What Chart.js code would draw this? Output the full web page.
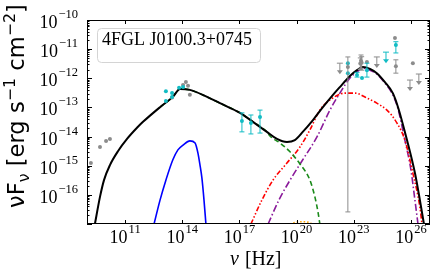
<!DOCTYPE html>
<html>
<head>
<meta charset="utf-8">
<script src="https://cdn.jsdelivr.net/npm/chart.js@4.4.0/dist/chart.umd.min.js"></script>
<style>
  html, body { margin: 0; padding: 0; background: #fff; }
  #wrap { width: 436px; height: 273px; }
</style>
</head>
<body>
<div id="wrap"><canvas id="sed" width="436" height="273"></canvas></div>
<script>
/* SED of 4FGL J0100.3+0745 — nu [Hz] vs nuFnu [erg s-1 cm-2] */

// model curves
var totalNu   = [2.6e9, 4.8e9, 7.8e9, 1.6e10, 4.3e10, 1.26e11, 4.2e11, 8.7e11, 6.8e12, 3.2e13, 7.6e13, 2.5e14, 2.0e15, 9.5e15, 1.07e17, 5.1e17, 2.75e18, 9.3e18, 3.1e19, 8.1e19, 2.1e20, 7.2e20, 2.4e21, 8.1e21, 1.86e22, 6.3e22, 1.48e23, 3.0e23, 7.1e23, 1.62e24, 4.3e24, 1.12e25, 2.1e25, 6.2e25, 1.62e26, 2.95e26, 4.8e26];
var totalFlux = [1e-17, 8.5e-17, 3.2e-16, 1.05e-15, 3.2e-15, 8.3e-15, 2.0e-14, 3.2e-14, 1.02e-13, 2.3e-13, 4.3e-13, 4.0e-13, 2.3e-13, 1.4e-13, 6.5e-14, 3.2e-14, 1.45e-14, 8.3e-15, 6.5e-15, 7.6e-15, 1.45e-14, 3.7e-14, 1.02e-13, 2.7e-13, 5.0e-13, 1.2e-12, 1.9e-12, 2.45e-12, 2.1e-12, 1.5e-12, 7.4e-13, 3.1e-13, 1.02e-13, 7.6e-15, 5.6e-16, 6.6e-17, 1e-17];

var diskNu    = [3.3e12, 6.8e12, 1.38e13, 3.2e13, 5.9e13, 1.1e14, 2.5e14, 4.7e14, 6.6e14, 8.5e14, 1.07e15, 1.38e15, 1.74e15];
var diskFlux  = [1e-17, 6.6e-17, 3.2e-16, 1.6e-15, 3.5e-15, 5.1e-15, 7.1e-15, 6.0e-15, 2.75e-15, 1.05e-15, 3.8e-16, 6.6e-17, 1e-17];

var synNu     = [6.8e12, 3.2e13, 7.6e13, 2.5e14, 2.0e15, 9.5e15, 1.07e17, 5.1e17, 2.75e18, 4.0e18, 1.35e19, 4.5e19, 1.5e20, 5.0e20, 9.1e20, 1.32e21, 1.66e21];
var synFlux   = [1.02e-13, 2.3e-13, 4.3e-13, 4.0e-13, 2.3e-13, 1.4e-13, 6.5e-14, 3.2e-14, 1.45e-14, 1.05e-14, 6.0e-15, 3.0e-15, 1.15e-15, 3.2e-16, 8.5e-17, 2.6e-17, 1e-17];

var sscNu     = [4.0e17, 1.5e18, 5.75e18, 3.1e19, 1.5e20, 5.0e20, 1.66e21, 5.6e21, 3.5e22, 1.15e23, 4.9e23, 1.62e24, 5.5e24, 1.82e25, 4.8e25, 1.26e26, 2.95e26, 3.8e26];
var sscFlux   = [1e-17, 6.6e-17, 3.2e-16, 1.23e-15, 4.4e-15, 1.7e-14, 8.1e-14, 1.8e-13, 3.1e-13, 3.1e-13, 2.1e-13, 1.4e-13, 8.1e-14, 2.95e-14, 7.6e-15, 5.6e-16, 3.8e-17, 1e-17];

var ecNu      = [3.2e18, 1.17e19, 4.5e19, 2.1e20, 1.15e21, 5.6e21, 1.86e22, 6.3e22, 1.48e23, 3.0e23, 7.1e23, 1.62e24, 4.3e24, 1.12e25, 2.1e25, 4.8e25, 1.0e26, 1.62e26, 2.34e26];
var ecFlux    = [1e-17, 6.6e-17, 3.2e-16, 1.6e-15, 9.5e-15, 8.1e-14, 3.1e-13, 1.02e-12, 1.66e-12, 2.24e-12, 1.9e-12, 1.4e-12, 6.9e-13, 2.7e-13, 8.9e-14, 7.6e-15, 7.1e-16, 6.6e-17, 1e-17];

var hadNu     = [4.0e19, 6.3e19, 1.05e20, 2.0e20, 3.5e20, 6.3e20, 1.26e21];
var hadFlux   = [5e-18, 1e-17, 1.17e-17, 1.2e-17, 1.17e-17, 1e-17, 5e-18];

// archival data (grey) and observations (cyan); null = no error bar
var greyNu    = [1.6e9, 4.8e9, 1.0e10, 1.6e10, 2.9e13, 1.1e14, 1.55e14, 2.0e14, 2.5e14, 4.9e22, 2.2e23, 2.4e23, 2.6e23, 4.9e23, 1.45e25, 1.62e25, 1.26e26];
var greyFlux  = [1.23e-15, 4.4e-15, 7.1e-15, 8.3e-15, 2.2e-13, 5.9e-13, 7.4e-13, 5.5e-13, 2.7e-13, 2.45e-12, 3.2e-12, 4.0e-12, 3.4e-12, 3.6e-12, 2.4e-11, 2.6e-12, 3.3e-12];
var greyLo    = [null, null, null, null, null, null, null, null, null, 2.6e-17, 2.0e-12, 2.2e-12, 1.9e-12, null, null, 1.5e-12, null];
var greyHi    = [null, null, null, null, null, null, null, null, null, 5.4e-12, 5.0e-12, 6.3e-12, 5.5e-12, null, null, 4.3e-12, null];

var cyanNu    = [1.38e13, 1.38e13, 2.9e13, 2.9e13, 6.8e13, 1.1e14, 1.35e17, 4.0e17, 1.2e18, 4.9e22, 4.9e22, 1.48e23, 2.7e23, 4.9e23, 1.62e25];
var cyanFlux  = [3.6e-13, 1.66e-13, 3.1e-13, 2.3e-13, 4.7e-13, 5.0e-13, 3.4e-14, 2.95e-14, 4.7e-14, 3.3e-12, 1.5e-12, 1.3e-12, 1.02e-12, 1.9e-12, 1.38e-11];
var cyanLo    = [null, null, null, null, null, null, 1.45e-14, 1.23e-14, 1.32e-14, null, null, 1.1e-12, null, 1.1e-12, 7.4e-12];
var cyanHi    = [null, null, null, null, null, null, 6.5e-14, 5.5e-14, 8.1e-14, null, null, 1.6e-12, null, 3.3e-12, 1.8e-11];

// upper limits
var greyUlNu   = [1.86e22, 1.62e24, 8.9e25, 2.6e26];
var greyUlFlux = [3.3e-12, 5.4e-12, 8.7e-13, 1.4e-12];
var cyanUlNu   = [4.9e24];
var cyanUlFlux = [7.9e-12];

// axes
var xLabelExp = [11, 14, 17, 20, 23, 26];
var yLabelExp = [-10, -11, -12, -13, -14, -15, -16];
var sourceName = '4FGL J0100.3+0745';

var GREY = '#8c8c8c', CYAN = '#12bcc4';
var SERIF = '"Liberation Serif", "DejaVu Serif", serif';

function pts(xs, ys) {
  return xs.map(function(x, i) { return { x: x, y: ys[i] }; });
}

function curve(label, xs, ys, color, dash, width) {
  return {
    label: label, data: pts(xs, ys), showLine: true,
    borderColor: color, borderWidth: width || 1.6, borderDash: dash || [],
    pointRadius: 0, cubicInterpolationMode: 'monotone', fill: false
  };
}

function marks(label, xs, ys, color) {
  return {
    label: label, data: pts(xs, ys), showLine: false,
    pointRadius: 2, pointBackgroundColor: color, pointBorderColor: color, pointBorderWidth: 0
  };
}

function seg(ctx, x1, y1, x2, y2) {
  ctx.beginPath(); ctx.moveTo(x1, y1); ctx.lineTo(x2, y2); ctx.stroke();
}

function drawBars(ctx, sx, sy, nu, lo, hi, color) {
  ctx.strokeStyle = color; ctx.lineWidth = 1;
  nu.forEach(function(n, i) {
    if (lo[i] == null) return;
    var x = sx.getPixelForValue(n), y1 = sy.getPixelForValue(lo[i]), y2 = sy.getPixelForValue(hi[i]);
    seg(ctx, x, y1, x, y2);
    seg(ctx, x - 2.5, y1, x + 2.5, y1);
    seg(ctx, x - 2.5, y2, x + 2.5, y2);
  });
}

function drawLimits(ctx, sx, sy, nu, flux, color) {
  ctx.strokeStyle = color; ctx.fillStyle = color; ctx.lineWidth = 1;
  nu.forEach(function(n, i) {
    var x = sx.getPixelForValue(n), y = sy.getPixelForValue(flux[i]);
    seg(ctx, x - 3, y, x + 3, y);
    seg(ctx, x, y, x, y + 8);
    ctx.beginPath();
    ctx.moveTo(x - 3, y + 7); ctx.lineTo(x + 3, y + 7); ctx.lineTo(x, y + 11);
    ctx.closePath(); ctx.fill();
  });
}

function expText(e) { return (e < 0 ? '\u2212' : '') + Math.abs(e); }

function drawPow(ctx, x, base, e, align) {
  ctx.font = '18px ' + SERIF;
  var w1 = ctx.measureText('10').width;
  ctx.font = '12.5px ' + SERIF;
  var s = expText(e), w2 = ctx.measureText(s).width;
  var x0 = align === 'right' ? x - w1 - w2 - 1 : x - (w1 + w2 + 1) / 2;
  ctx.textAlign = 'left'; ctx.textBaseline = 'alphabetic';
  ctx.font = '18px ' + SERIF;
  ctx.fillText('10', x0, base);
  ctx.font = '12.5px ' + SERIF;
  ctx.fillText(s, x0 + w1 + 1, base - 10);
}

var decor = {
  id: 'decor',
  afterDatasetsDraw: function(chart) {
    var ctx = chart.ctx, sx = chart.scales.x, sy = chart.scales.y;
    ctx.save();
    drawBars(ctx, sx, sy, greyNu, greyLo, greyHi, GREY);
    drawBars(ctx, sx, sy, cyanNu, cyanLo, cyanHi, CYAN);
    drawLimits(ctx, sx, sy, greyUlNu, greyUlFlux, GREY);
    drawLimits(ctx, sx, sy, cyanUlNu, cyanUlFlux, CYAN);
    ctx.restore();
  },
  afterDraw: function(chart) {
    var ctx = chart.ctx, sx = chart.scales.x, sy = chart.scales.y, a = chart.chartArea;
    ctx.save();
    ctx.strokeStyle = '#000'; ctx.fillStyle = '#000'; ctx.lineWidth = 1;
    ctx.strokeRect(a.left + 0.5, a.top + 0.5, a.right - a.left - 1, a.bottom - a.top - 1);

    // y ticks, both sides
    for (var e = -17; e <= -10; e++) {
      var y = Math.round(sy.getPixelForValue(Math.pow(10, e))) + 0.5;
      seg(ctx, a.left, y, a.left + 5, y);
      seg(ctx, a.right, y, a.right - 5, y);
      if (e === -10) continue;
      for (var m = 2; m <= 9; m++) {
        var ym = Math.round(sy.getPixelForValue(m * Math.pow(10, e))) + 0.5;
        seg(ctx, a.left, ym, a.left + 2.5, ym);
        seg(ctx, a.right, ym, a.right - 2.5, ym);
      }
    }
    // x ticks, top and bottom
    xLabelExp.forEach(function(e) {
      var x = Math.round(sx.getPixelForValue(Math.pow(10, e))) + 0.5;
      seg(ctx, x, a.bottom, x, a.bottom - 4);
      seg(ctx, x, a.top, x, a.top + 4);
    });

    // tick labels
    yLabelExp.forEach(function(e) {
      drawPow(ctx, 78, sy.getPixelForValue(Math.pow(10, e)) + 8, e, 'right');
    });
    xLabelExp.forEach(function(e) {
      drawPow(ctx, sx.getPixelForValue(Math.pow(10, e)), 243, e, 'center');
    });

    // x title
    ctx.textAlign = 'left'; ctx.textBaseline = 'alphabetic';
    ctx.font = 'italic 20px ' + SERIF;
    ctx.fillText('\u03bd', 230, 265);
    var wn = ctx.measureText('\u03bd').width;
    ctx.font = '20px ' + SERIF;
    ctx.fillText(' [Hz]', 230 + wn + 1, 265);

    // y title, rotated, sized to span about 204px
    var parts = [
      { t: '\u03bdF', s: 1, d: 0 }, { t: '\u03bd', s: 0.7, d: 0.2 },
      { t: ' [erg s', s: 1, d: 0 }, { t: '\u22121', s: 0.7, d: -0.4 },
      { t: ' cm', s: 1, d: 0 }, { t: '\u22122', s: 0.7, d: -0.4 }, { t: ']', s: 1, d: 0 }
    ];
    var total = 0;
    parts.forEach(function(p) { ctx.font = (p.s * 20) + 'px "DejaVu Sans"'; total += ctx.measureText(p.t).width; });
    var fs = 20 * 204 / total;
    ctx.save();
    ctx.translate(24, 208);
    ctx.rotate(-Math.PI / 2);
    var cx = 0;
    parts.forEach(function(p) {
      ctx.font = (p.s * fs) + 'px "DejaVu Sans"';
      ctx.fillText(p.t, cx, p.d * fs);
      cx += ctx.measureText(p.t).width;
    });
    ctx.restore();

    // source label box
    ctx.font = '12px ' + SERIF;
    var lw = ctx.measureText(sourceName).width;
    var lf = 12 * 150 / lw;
    ctx.fillStyle = 'rgba(255,255,255,0.85)'; ctx.strokeStyle = '#d4d4d4';
    ctx.beginPath(); ctx.roundRect(97.5, 28.5, 163, 34, 4); ctx.fill(); ctx.stroke();
    ctx.fillStyle = '#000'; ctx.font = lf.toFixed(2) + 'px ' + SERIF;
    ctx.fillText(sourceName, 102, 45);
    ctx.restore();
  }
};

new Chart(document.getElementById('sed'), {
  type: 'scatter',
  data: {
    datasets: [
      marks('cyan', cyanNu, cyanFlux, CYAN),
      marks('grey', greyNu, greyFlux, GREY),
      curve('total', totalNu, totalFlux, '#000000', [], 2),
      curve('disk', diskNu, diskFlux, '#0000ff', [], 1.6),
      curve('syn', synNu, synFlux, '#1a8a1a', [5, 3], 1.6),
      curve('ssc', sscNu, sscFlux, '#ff0000', [5, 2, 1.5, 2, 1.5, 2], 1.6),
      curve('ec', ecNu, ecFlux, '#8a1a9a', [7, 2.5, 1.5, 2.5], 1.6),
      curve('had', hadNu, hadFlux, '#ffa500', [1.5, 2], 1.6)
    ]
  },
  options: {
    responsive: false,
    animation: false,
    layout: { padding: { left: 87, right: 6, top: 20, bottom: 49 } },
    plugins: { legend: { display: false }, tooltip: { enabled: false } },
    scales: {
      x: { type: 'logarithmic', min: 1e9, max: 1e27, display: false },
      y: { type: 'logarithmic', min: 1e-17, max: 1e-10, display: false }
    }
  },
  plugins: [decor]
});
</script>
</body>
</html>
